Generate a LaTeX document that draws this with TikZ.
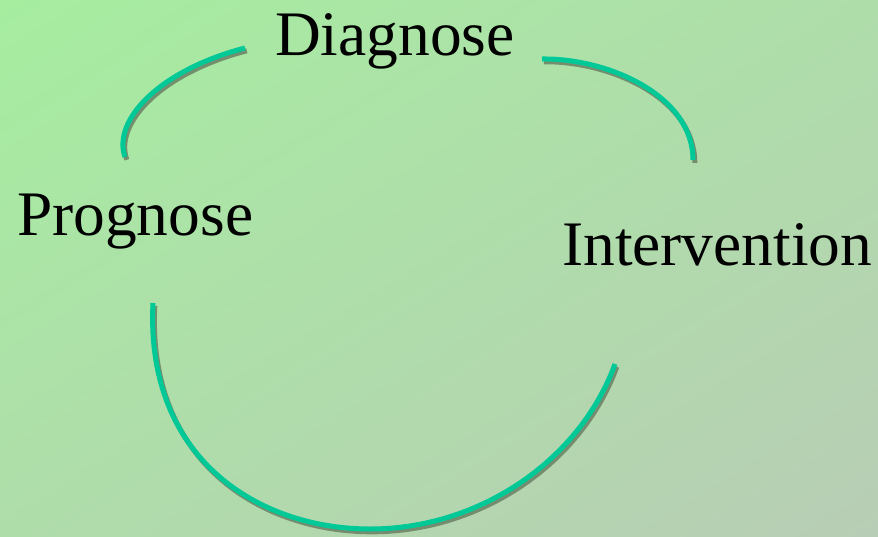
\documentclass[tikz,border=0pt]{standalone}
\usepackage{fontspec}
\setmainfont{Liberation Serif}
\usetikzlibrary{shadings}
\definecolor{bgTL}{HTML}{A6EDA0}
\definecolor{bgBR}{HTML}{B8CDB5}
\definecolor{bgMid}{HTML}{AFDDAA}
\definecolor{arcC}{HTML}{00C896}
\definecolor{shadowC}{HTML}{667A60}
\tikzset{
  lbl/.style={inner sep=0pt, anchor=base west, font=\fontsize{63.4}{70}\selectfont, text=black},
  arcline/.style={draw=arcC, line width=5pt},
  arcshadow/.style={draw=shadowC, line width=5pt, opacity=0.8}
}
\begin{document}
\begin{tikzpicture}[x=1pt, y=-1pt]
\useasboundingbox (0,0) rectangle (878,536);
\shade[upper left=bgTL, lower right=bgBR, upper right=bgMid, lower left=bgMid] (0,0) rectangle (878,536);
% shadows
\begin{scope}[shift={(1.8,2.8)}]
\draw[arcshadow] (125,157) .. controls (112,120) and (160,70) .. (245,48);
\draw[arcshadow] (542,59) .. controls (607,58) and (693,95) .. (693,160);
\draw[arcshadow] (153,303) .. controls (145,460) and (260,529) .. (370,529) .. controls (480,529) and (580,460) .. (615,364);
\end{scope}
% arcs
\draw[arcline] (125,157) .. controls (112,120) and (160,70) .. (245,48);
\draw[arcline] (542,59) .. controls (607,58) and (693,95) .. (693,160);
\draw[arcline] (153,303) .. controls (145,460) and (260,529) .. (370,529) .. controls (480,529) and (580,460) .. (615,364);
% labels
\node[lbl] (diag) at (275,55) {Diagnose};
\node[lbl] (prog) at (17,235) {Prognose};
\node[lbl] (interv) at (562,265) {Intervention};
\end{tikzpicture}
\end{document}
